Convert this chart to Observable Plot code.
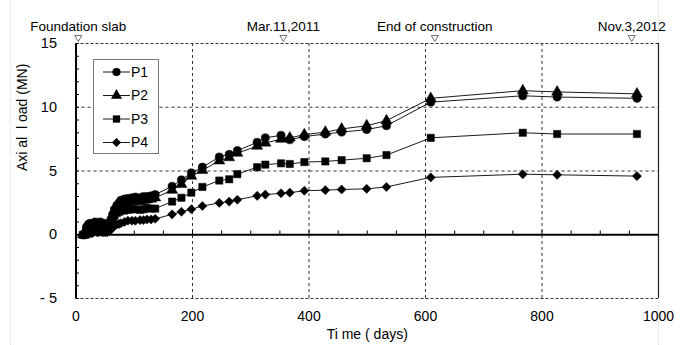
<!DOCTYPE html>
<html>
<head>
<meta charset="utf-8">
<script src="https://cdn.jsdelivr.net/npm/d3@7"></script>
<script src="https://cdn.jsdelivr.net/npm/@observablehq/plot@0.6"></script>
<style>
  html, body { margin: 0; padding: 0; background: #fff; }
  #wrap { position: relative; width: 680px; height: 345px; font-family: "Liberation Sans", Arial, sans-serif; }
  #legend { position: absolute; left: 93px; top: 59px; width: 64px; height: 93px; border: 1px solid #777; background: #fff; }
  .vdot { position: absolute; top: 0; height: 345px; width: 0; border-left: 1px dotted #ddd; }
</style>
</head>
<body>
<div id="wrap">
  <div class="vdot" style="left:10px"></div>
  <div class="vdot" style="left:658px"></div>
</div>
<script>
const days = [12, 15, 18, 21, 24, 27, 30, 33, 36, 39, 42, 45, 48, 51, 54, 57, 60, 63, 66, 70, 74, 77, 83, 89, 96, 102, 110, 116, 122, 129, 136, 165, 181, 198, 217, 246, 263, 277, 311, 325, 352, 367, 392, 428, 456, 499, 533, 609, 767, 826, 963];
const p1 = [0, 0.1, 0.6, 0.8, 0.9, 0.7, 0.9, 1.0, 0.8, 0.9, 1.0, 0.8, 0.9, 0.7, 0.8, 0.9, 1.2, 1.6, 2.0, 2.3, 2.5, 2.7, 2.8, 2.85, 2.9, 2.95, 2.9, 3.0, 3.0, 3.05, 3.15, 3.8, 4.3, 4.85, 5.3, 6.1, 6.3, 6.6, 7.25, 7.6, 7.8, 7.45, 7.7, 7.9, 8.05, 8.25, 8.55, 10.4, 10.9, 10.8, 10.7];
const p2 = [0, 0.0, 0.4, 0.6, 0.7, 0.6, 0.8, 0.8, 0.7, 0.8, 0.8, 0.7, 0.7, 0.6, 0.7, 0.8, 1.1, 1.5, 1.9, 2.1, 2.3, 2.4, 2.5, 2.55, 2.6, 2.65, 2.6, 2.7, 2.75, 2.8, 2.9, 3.5, 3.95, 4.6, 5.05, 5.8, 6.05, 6.4, 6.95, 7.2, 7.5, 7.6, 7.85, 8.05, 8.3, 8.55, 8.95, 10.7, 11.3, 11.2, 11.05];
const p3 = [0, 0.0, 0.3, 0.5, 0.6, 0.5, 0.6, 0.7, 0.6, 0.6, 0.7, 0.6, 0.6, 0.5, 0.6, 0.7, 0.9, 1.2, 1.5, 1.7, 1.8, 1.9, 1.9, 1.95, 2.0, 2.0, 1.95, 2.0, 2.1, 2.05, 2.05, 2.6, 2.9, 3.3, 3.75, 4.25, 4.35, 4.75, 5.3, 5.5, 5.6, 5.55, 5.7, 5.75, 5.85, 6.0, 6.25, 7.6, 8.0, 7.9, 7.9];
const p4 = [0, 0.0, 0.1, 0.2, 0.2, 0.1, 0.2, 0.3, 0.2, 0.2, 0.3, 0.2, 0.2, 0.2, 0.2, 0.3, 0.4, 0.6, 0.7, 0.8, 0.85, 0.9, 1.0, 1.1, 1.1, 1.1, 1.15, 1.15, 1.2, 1.2, 1.25, 1.6, 1.8, 2.0, 2.25, 2.5, 2.6, 2.75, 3.05, 3.15, 3.25, 3.3, 3.45, 3.5, 3.55, 3.6, 3.75, 4.5, 4.75, 4.7, 4.6];

const seriesNames = ["P1", "P2", "P3", "P4"];
const seriesValues = [p1, p2, p3, p4];
const seriesSymbols = ["circle", "triangle", "square", "diamond2"];

const eventDays = [4, 356, 616, 954];
const eventLabels = ["Foundation slab", "Mar.11,2011", "End of construction", "Nov.3,2012"];

const xTicks = [0, 200, 400, 600, 800, 1000];
const yTicks = [-5, 0, 5, 10, 15];
const xGrid = [200, 400, 600, 800];
const yGrid = [5, 10];
const yMinor = d3.range(-5, 16, 1);
const xMinor = d3.range(50, 1000, 50);

const rows = [];
seriesNames.forEach((s, i) => days.forEach((d, j) => rows.push({series: s, day: d, value: seriesValues[i][j], symbol: seriesSymbols[i]})));
const events = eventDays.map((d, i) => ({day: d, label: eventLabels[i]}));

const chart = Plot.plot({
  width: 680,
  height: 345,
  marginLeft: 75.5,
  marginRight: 22,
  marginTop: 43,
  marginBottom: 47,
  style: {fontFamily: "Liberation Sans, Arial, sans-serif", fontSize: "13px", color: "#000", background: "transparent"},
  x: {domain: [0, 1000]},
  y: {domain: [-5, 15]},
  symbol: {domain: seriesNames, range: seriesSymbols},
  marks: [
    Plot.ruleX(xGrid, {stroke: "#333", strokeDasharray: "3,3", strokeWidth: 1}),
    Plot.ruleY(yGrid, {stroke: "#333", strokeDasharray: "3,3", strokeWidth: 1}),
    Plot.ruleY([15, -5], {stroke: "#333", strokeDasharray: "3,2", strokeWidth: 1.2}),
    Plot.ruleX([1000], {stroke: "#222", strokeWidth: 1.2}),
    Plot.ruleY(yMinor, {x1: 0, x2: 6, stroke: "#000", strokeWidth: 1}),
    Plot.ruleX(xMinor, {y1: 0, y2: 0.3, stroke: "#000", strokeWidth: 1}),
    Plot.ruleX([0], {stroke: "#000", strokeWidth: 2}),
    Plot.ruleY([0], {stroke: "#000", strokeWidth: 2}),
    Plot.axisX({ticks: xTicks, tickSize: 0, tickPadding: 13, fontSize: 14, label: null, tickFormat: d => String(d)}),
    Plot.axisY({ticks: yTicks, tickSize: 0, tickPadding: 19, fontSize: 14.5, label: null,
      tickFormat: d => d < 0 ? "- " + (-d) : String(d)}),
    Plot.text(["Ti me ( days)"], {frameAnchor: "bottom", dy: 40, fontSize: 14}),
    Plot.text(["Axi al  l oad (MN)"], {frameAnchor: "left", rotate: -90, dx: -53, fontSize: 14}),
    Plot.line(rows, {x: "day", y: "value", z: "series", stroke: "#000", strokeWidth: 0.9}),
    Plot.dot(rows, {x: "day", y: "value", symbol: "series", r: 4.1, fill: "#000", stroke: "#000", strokeWidth: 0.5}),
    Plot.dot(events, {x: "day", frameAnchor: "top", dy: -6, symbol: "triangle", rotate: 180, r: 2.6, fill: "white", stroke: "#333", strokeWidth: 0.7}),
    Plot.text(events, {x: "day", text: "label", frameAnchor: "top", dy: -22, fontSize: 13.5})
  ]
});

const wrap = document.getElementById("wrap");
chart.style.position = "absolute";
chart.style.left = "0";
chart.style.top = "0";
wrap.appendChild(chart);

// legend
const leg = document.createElement("div");
leg.id = "legend";
wrap.appendChild(leg);
const symMap = {circle: d3.symbolCircle, triangle: d3.symbolTriangle, square: d3.symbolSquare, diamond2: d3.symbolDiamond2 || d3.symbolDiamond};
const lsvg = d3.select(leg).append("svg").attr("width", 64).attr("height", 93)
  .style("font-family", "Liberation Sans, Arial, sans-serif").style("font-size", "14px");
seriesNames.forEach((s, i) => {
  const y = 12 + i * 23.5;
  const g = lsvg.append("g").attr("transform", `translate(0,${y})`);
  g.append("line").attr("x1", 9).attr("x2", 36).attr("y1", 0).attr("y2", 0).attr("stroke", "#000").attr("stroke-width", 0.9);
  g.append("path").attr("d", d3.symbol(symMap[seriesSymbols[i]], Math.PI * 4.1 * 4.1)()).attr("transform", "translate(22.5,0)").attr("fill", "#000");
  g.append("text").attr("x", 37).attr("y", 0).attr("dy", "0.35em").text(s);
});
</script>
</body>
</html>
